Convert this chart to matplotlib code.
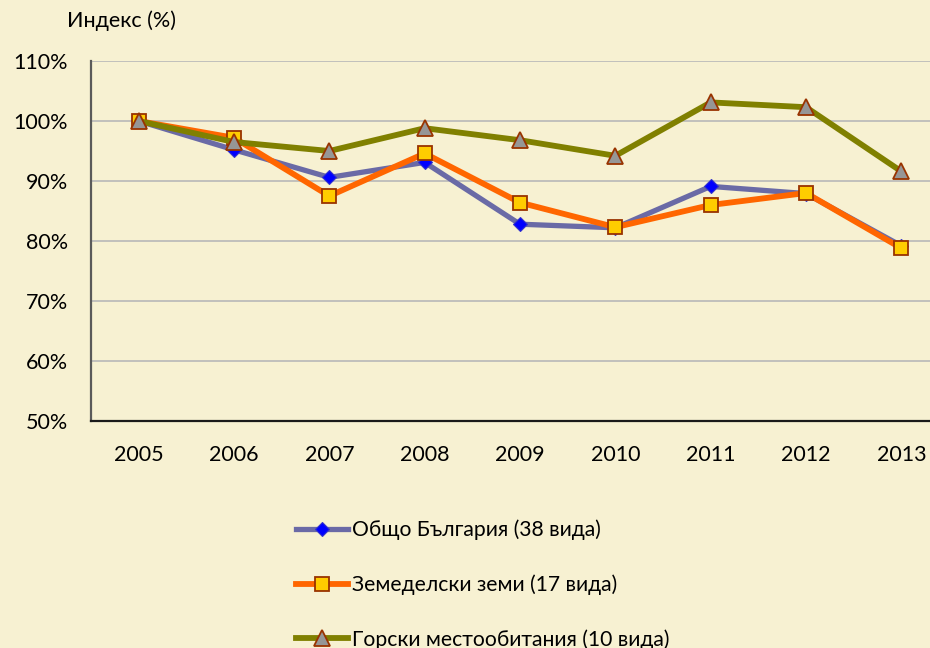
import matplotlib
matplotlib.use("Agg")
import matplotlib.pyplot as plt
import numpy as np

plt.rcParams['font.family'] = ['Lato', 'Open Sans', 'DejaVu Sans']

years = ["2005", "2006", "2007", "2008", "2009", "2010", "2011", "2012", "2013"]
obshto = [100.0, 95.2, 90.6, 93.1, 82.8, 82.2, 89.1, 87.9, 79.2]
zemedelski = [100.0, 97.2, 87.5, 94.6, 86.4, 82.3, 86.0, 88.0, 78.8]
gorski = [100.0, 96.5, 95.0, 98.8, 96.8, 94.2, 103.1, 102.3, 91.6]
labels = ["Общо България (38 вида)", "Земеделски земи (17 вида)", "Горски местообитания (10 вида)"]
yticks = [50, 60, 70, 80, 90, 100, 110]

W, H = 930, 648
fig = plt.figure(figsize=(W / 100, H / 100), dpi=100)
fig.patch.set_facecolor("#f7f1d2")

ax = fig.add_axes([91 / W, 1 - 421 / H, 858 / W, 360 / H])
ax.set_facecolor("none")
x = np.arange(len(years))

l1, = ax.plot(x, obshto, color="#6a6aa6", lw=3.8, marker="D", ms=7.5,
              mfc="#0000ff", mec="#3333cc", mew=0.8, zorder=3)
l2, = ax.plot(x, zemedelski, color="#ff6600", lw=4.2, marker="s", ms=10,
              mfc="#ffcc00", mec="#993300", mew=1.3, zorder=4)
l3, = ax.plot(x, gorski, color="#808000", lw=4.2, marker="^", ms=11,
              mfc="#969696", mec="#993300", mew=1.3, zorder=5)

ax.set_xlim(-0.5, len(years) - 0.5)
ax.set_ylim(50, 110)
ax.set_yticks(yticks)
ax.set_yticklabels([f"{v}%" for v in yticks])
ax.set_xticks(x)
ax.set_xticklabels(years)
ax.tick_params(axis="both", length=0, labelsize=15.5, colors="#000000")
ax.tick_params(axis="y", pad=16.5)
ax.tick_params(axis="x", pad=17.5)
ax.grid(axis="y", color="#b8b8b8", lw=1.2)
ax.set_axisbelow(True)
for s in ["top", "right"]:
    ax.spines[s].set_visible(False)
ax.spines["left"].set_color("#5a5a5a")
ax.spines["left"].set_linewidth(1.6)
ax.spines["bottom"].set_color("#1a1a1a")
ax.spines["bottom"].set_linewidth(1.6)

fig.text(67 / W, 1 - 21 / H, "Индекс (%)", fontsize=15.5, va="center", ha="left")

leg = fig.legend([l1, l2, l3], labels, loc="upper left",
                 bbox_to_anchor=(285 / W, 1 - 509 / H), frameon=False,
                 fontsize=15.2, handlelength=2.5, handletextpad=0.15,
                 labelspacing=1.62, numpoints=1, borderpad=0)

fig.savefig("out.png", dpi=100, facecolor=fig.get_facecolor())
